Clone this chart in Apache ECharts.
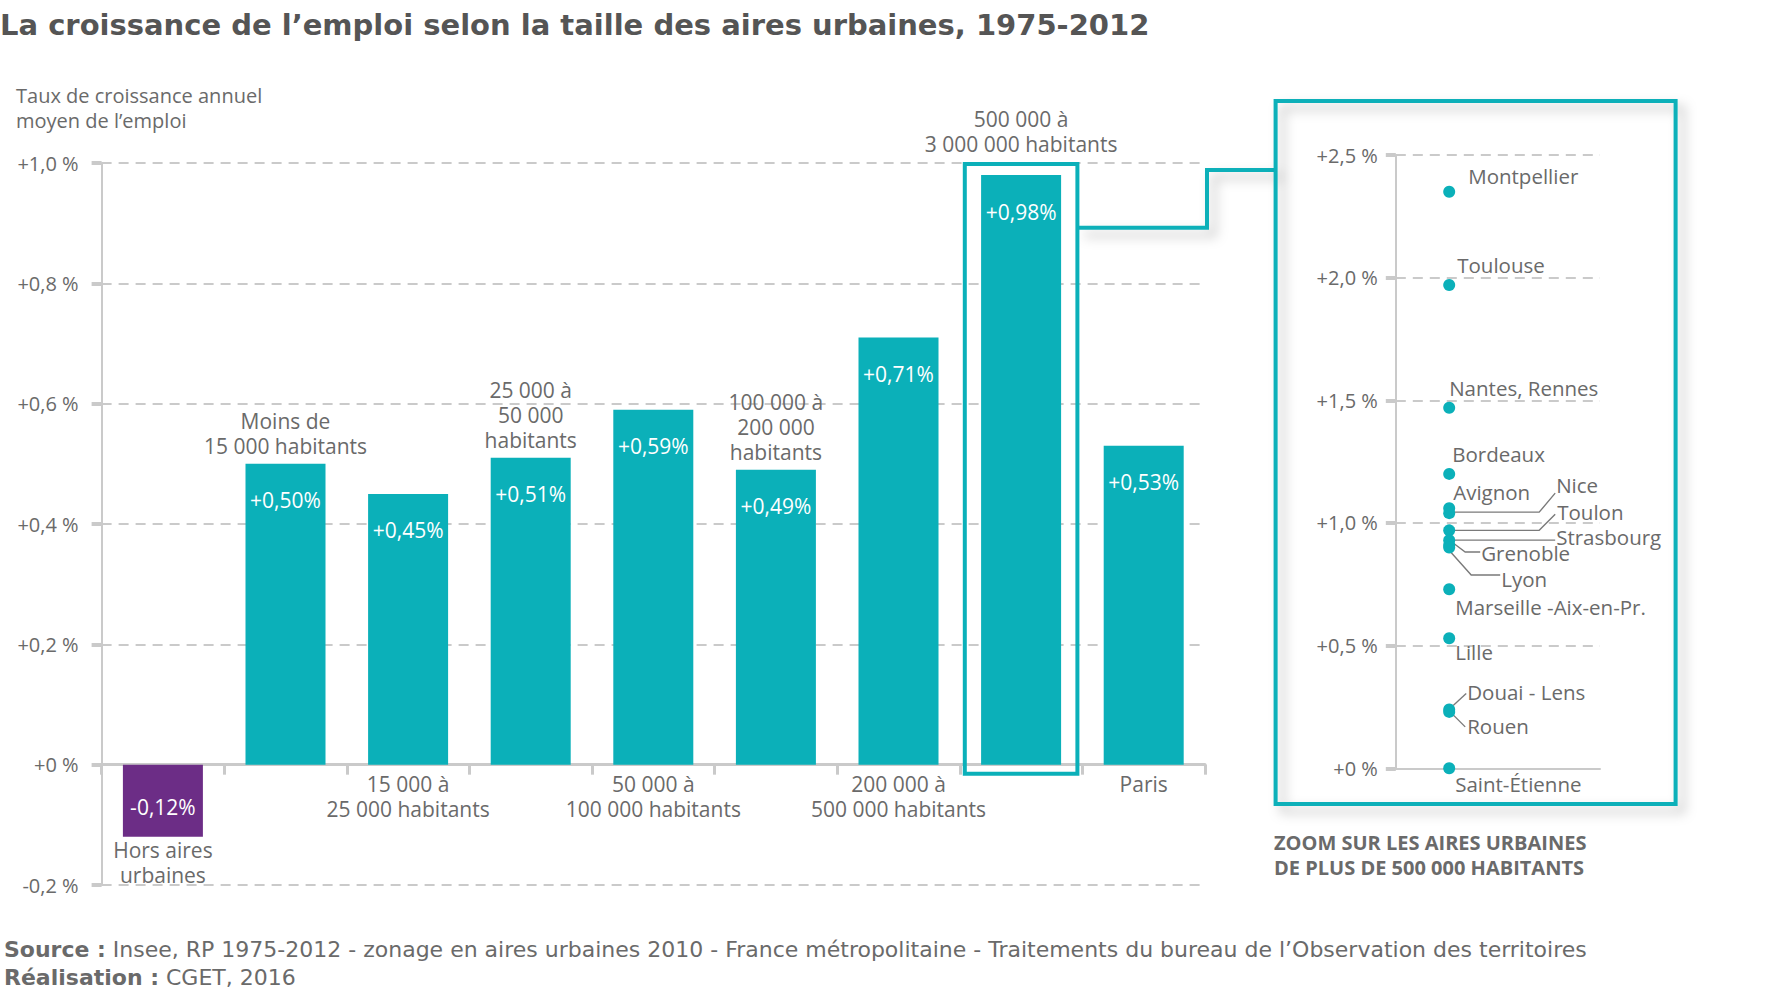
<!DOCTYPE html>
<html><head><meta charset="utf-8">
<script src="https://cdn.jsdelivr.net/npm/echarts@6/dist/echarts.min.js"></script>
<style>html,body{margin:0;padding:0;background:#fff}#c{width:1771px;height:994px}</style>
</head><body><div id="c"></div>
<script>
// ---------- DATA ----------
const categories = ['Hors aires\nurbaines', 'Moins de\n15 000 habitants', '15 000 à\n25 000 habitants',
  '25 000 à\n50 000\nhabitants', '50 000 à\n100 000 habitants', '100 000 à\n200 000\nhabitants',
  '200 000 à\n500 000 habitants', '500 000 à\n3 000 000 habitants', 'Paris'];
const growth = [-0.12, 0.50, 0.45, 0.51, 0.59, 0.49, 0.71, 0.98, 0.53];
const mainTicks = [-0.2, 0, 0.2, 0.4, 0.6, 0.8, 1.0];
const mainTickLabels = ['-0,2 %', '+0 %', '+0,2 %', '+0,4 %', '+0,6 %', '+0,8 %', '+1,0 %'];

const cities = ['Montpellier', 'Toulouse', 'Nantes, Rennes', 'Bordeaux', 'Avignon', 'Nice', 'Toulon',
  'Strasbourg', 'Grenoble', 'Lyon', 'Marseille -Aix-en-Pr.', 'Lille', 'Douai - Lens', 'Rouen', 'Saint-Étienne'];
const cityGrowth = [2.35, 1.97, 1.47, 1.20, 1.06, 1.04, 0.97, 0.93, 0.91, 0.90, 0.73, 0.53, 0.24, 0.23, 0.00];
const zoomTicks = [0, 0.5, 1.0, 1.5, 2.0, 2.5];
const zoomTickLabels = ['+0 %', '+0,5 %', '+1,0 %', '+1,5 %', '+2,0 %', '+2,5 %'];

const HIGHLIGHT = 7; // index of the 500 000 - 3 000 000 category

// ---------- STYLE / LAYOUT ----------
const TEAL = '#0bb0b9', PURPLE = '#6c2d86', TEXT = '#6a6a6a', AXIS = '#cacaca';
const FONT = '"Open Sans", "DejaVu Sans", sans-serif';
const ZOOM_DOT_X = 0.2615;
const cityLabelOffset = [[19,-16],[8,-20],[0,-20],[3,-20],[4,-16],[107,-28],[108,-18],[107,-3],[32,8],[52,31.5],[6,18],[6,14],[18,-17],[18,14],[6,16]];
const cityLeaders = {
  5: [[0,-1],[90,-1],[106,-20]],
  6: [[0,0],[90,0],[106,-16]],
  7: [[0,0],[106,0]],
  8: [[4,-2],[16,7],[31,7]],
  9: [[1,4],[22,27.5],[51,27.5]],
  12: [[4,-4],[17,-16]],
  13: [[4,3],[16,15]]
};

function tickFmt(ticks, labels) {
  return v => { const i = ticks.findIndex(t => Math.abs(t - v) < 1e-6); return i >= 0 ? labels[i] : ''; };
}
const pctFmt = v => (v > 0 ? '+' : '') + v.toFixed(2).replace('.', ',') + '%';

function catLabel(v, i) {
  if (v < 0) return { show: true, position: 'bottom', distance: 1 };
  if (i % 2 === 1) return { show: true, position: 'top', distance: i === HIGHLIGHT ? 19 : 5 };
  return { show: true, position: 'bottom', distance: 7 };
}

const option = {
  animation: false,
  backgroundColor: '#fff',
  grid: [
    { left: 101.6, top: 163, width: 1103.4, height: 722 },
    { left: 1395.8, top: 155, width: 204.2, height: 613.3 }
  ],
  xAxis: [
    { type: 'category', gridIndex: 0, data: categories, boundaryGap: true,
      axisLine: { onZero: true, lineStyle: { color: AXIS, width: 3 } },
      axisTick: { show: true, interval: 0, length: 10, lineStyle: { color: AXIS, width: 3 } },
      axisLabel: { show: false },
      splitLine: { show: false } },
    { type: 'value', gridIndex: 1, min: 0, max: 1,
      axisLine: { show: true, onZero: false, lineStyle: { color: AXIS, width: 2 } },
      axisTick: { show: false }, axisLabel: { show: false }, splitLine: { show: false } }
  ],
  yAxis: [
    { type: 'value', gridIndex: 0, min: -0.2, max: 1.0, interval: 0.2,
      axisLine: { show: true, lineStyle: { color: AXIS, width: 2 } },
      axisTick: { show: true, length: 10, lineStyle: { color: AXIS, width: 4 } },
      splitLine: { show: true, lineStyle: { color: AXIS, width: 2, type: [10, 7] } },
      axisLabel: { margin: 23, color: TEXT, fontSize: 20, fontFamily: FONT, formatter: tickFmt(mainTicks, mainTickLabels) } },
    { type: 'value', gridIndex: 1, min: 0, max: 2.5, interval: 0.5,
      axisLine: { show: true, lineStyle: { color: AXIS, width: 2 } },
      axisTick: { show: true, length: 10, lineStyle: { color: AXIS, width: 4 } },
      splitLine: { show: true, lineStyle: { color: AXIS, width: 2, type: [10, 7] } },
      axisLabel: { margin: 18, color: TEXT, fontSize: 20, fontFamily: FONT, formatter: tickFmt(zoomTicks, zoomTickLabels) } }
  ],
  series: [
    { type: 'bar', xAxisIndex: 0, yAxisIndex: 0, barWidth: 80, silent: true, z: 3,
      data: growth.map(v => ({ value: v, itemStyle: { color: v < 0 ? PURPLE : TEAL },
        label: { position: 'insideTop', distance: v < 0 ? 32 : 26 } })),
      label: { show: true, color: '#fff', fontSize: 21, fontFamily: FONT, formatter: p => pctFmt(p.value) } },
    { type: 'bar', xAxisIndex: 0, yAxisIndex: 0, barWidth: 80, barGap: '-100%', silent: true, z: 2,
      itemStyle: { color: 'rgba(0,0,0,0)' },
      data: growth.map((v, i) => ({ value: v, label: catLabel(v, i) })),
      label: { color: TEXT, fontSize: 21, lineHeight: 25, fontFamily: FONT, align: 'center', formatter: p => categories[p.dataIndex] } },
    { type: 'scatter', xAxisIndex: 1, yAxisIndex: 1, symbolSize: 12, silent: true, z: 5,
      itemStyle: { color: TEAL, opacity: 1 },
      data: cityGrowth.map((v, i) => ({ name: cities[i], value: [ZOOM_DOT_X, v] })) }
  ]
};

const chart = echarts.init(document.getElementById('c'), null, { renderer: 'svg' });
chart.setOption(option);

function px(grid, x, y) { return chart.convertToPixel({ gridIndex: grid }, [x, y]); }
function txt(text, x, y, font, fill, extra) {
  return { type: 'text', z: 100, silent: true,
    style: Object.assign({ text, x, y, font, fill, align: 'left', verticalAlign: 'middle' }, extra || {}) };
}
const els = [];
const shadow = { shadowBlur: 12, shadowOffsetX: 7, shadowOffsetY: 7, shadowColor: 'rgba(0,0,0,0.25)' };

// highlight frame around the 500 000 - 3 000 000 bar
const hx = px(0, HIGHLIGHT, 0)[0];
const yTop = px(0, HIGHLIGHT, 1.0)[1];
const yZero = px(0, HIGHLIGHT, 0)[1];
const BOX_HALF = 56.3;
els.push({ type: 'rect', z: 10, silent: true,
  shape: { x: hx - BOX_HALF, y: yTop + 1, width: BOX_HALF * 2, height: (yZero + 9) - (yTop + 1) },
  style: { fill: 'none', stroke: TEAL, lineWidth: 4 } });
// connector
els.push({ type: 'polyline', z: 9, silent: true,
  shape: { points: [[hx + BOX_HALF, 227.7], [1207, 227.7], [1207, 170], [1275.6, 170]] },
  style: Object.assign({ fill: 'none', stroke: TEAL, lineWidth: 4 }, shadow) });
// zoom frame
els.push({ type: 'rect', z: 9, silent: true,
  shape: { x: 1275.6, y: 101, width: 400, height: 703 },
  style: Object.assign({ fill: 'none', stroke: TEAL, lineWidth: 4 }, shadow) });

// city labels and leaders
cities.forEach((c, i) => {
  const p = px(1, ZOOM_DOT_X, cityGrowth[i]);
  const o = cityLabelOffset[i];
  els.push(txt(c, p[0] + o[0], p[1] + o[1], '20.5px ' + FONT, TEXT));
  if (cityLeaders[i]) {
    els.push({ type: 'polyline', z: 4, silent: true,
      shape: { points: cityLeaders[i].map(q => [p[0] + q[0], p[1] + q[1]]) },
      style: { fill: 'none', stroke: '#7a7a7a', lineWidth: 1.4 } });
  }
});

// static texts
els.push(txt('La croissance de l\u2019emploi selon la taille des aires urbaines, 1975-2012', 0, 25, 'bold 29px "DejaVu Sans", sans-serif', '#555555'));
els.push(txt('Taux de croissance annuel\nmoyen de l\u2019emploi', 16, 108, '20px ' + FONT, TEXT, { lineHeight: 25 }));
els.push(txt('ZOOM SUR LES AIRES URBAINES\nDE PLUS DE 500 000 HABITANTS', 1274, 854.5, 'bold 20px ' + FONT, TEXT, { lineHeight: 25 }));
const SRC_FONT = '22px "DejaVu Sans", sans-serif';
els.push(txt('{b|Source :} Insee, RP 1975-2012 - zonage en aires urbaines 2010 - France métropolitaine - Traitements du bureau de l\u2019Observation des territoires\n{b|Réalisation :} CGET, 2016',
  4, 963, SRC_FONT, TEXT, { lineHeight: 28, rich: { b: { font: 'bold ' + SRC_FONT, fill: TEXT, lineHeight: 28 } } }));

chart.setOption({ graphic: { elements: els } });
</script></body></html>
